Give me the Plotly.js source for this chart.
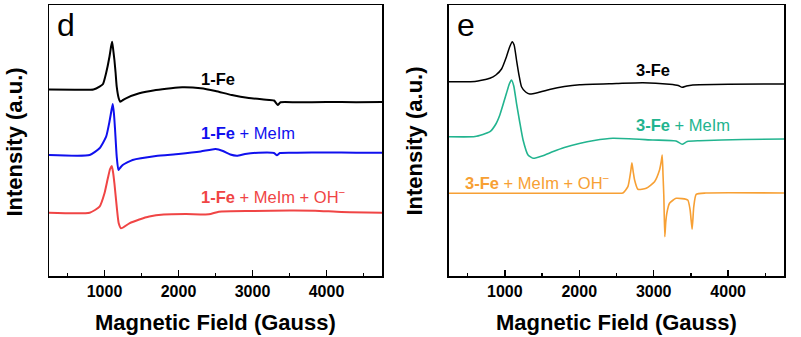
<!DOCTYPE html>
<html><head><meta charset="utf-8">
<script src="https://cdn.plot.ly/plotly-3.0.1.min.js"></script>
<style>html,body{margin:0;padding:0;background:#fff}#chart{width:801px;height:337px}</style>
</head><body><div id="chart"></div>
<script>
// Panel d
const fieldFe1 = [250,600,850,933,980,1022,1067,1090,1103,1118,1134,1150,1165,1192,1211,1240,1290,1470,1695,1900,2050,2300,2500,2720,2950,3150,3290,3340,3380,3600,4000,4400,4750];
const intFe1   = [186.5,186.3,186.5,189.3,192,203,219.3,230,234.3,226,216,203,189.3,177.7,174.3,175.5,177.7,182.7,186,187.8,188.7,187.8,185,181,178,176.5,175.5,171,173.7,173.7,174,173.8,174];
const fieldFe1Im = [250,800,933,1022,1067,1095,1112,1128,1143,1165,1188,1215,1246,1380,1695,2000,2300,2500,2600,2700,2790,2900,3080,3290,3330,3370,3600,4000,4400,4750];
const intFe1Im   = [121,121,127.7,139.3,154.3,166,172,162,146,119.3,106,108.5,111,116,120,122,124.5,127,125,121.5,120.3,122,123.3,123,120.7,123,123.3,123.5,123.3,123.3];
const fieldFe1ImOH = [250,800,933,1000,1045,1075,1098,1115,1134,1165,1192,1224,1336,1470,1605,1800,2100,2410,2545,3000,3500,3845,4200,4750];
const intFe1ImOH   = [63.3,63.3,69.3,82.7,97.7,107,110,104,92.7,69.3,52.7,47.7,52.7,56.5,59.5,61.5,62,61.7,64.3,65,65.5,65.3,64,63.3];
// Panel e
const fieldFe3 = [250,600,800,880,956,1022,1060,1098,1125,1157,1190,1224,1280,1335,1450,1600,1800,2005,2500,2854,3212,3330,3382,3440,3524,4000,4750];
const intFe3   = [194.3,194.5,197.7,201,207,219.3,228,234.3,231,216,201,189.3,184,182,183.5,186.5,189.5,191.3,192.5,193.3,191.7,190.5,188.7,190,191,191.7,192];
const fieldFe3Im = [250,600,800,880,933,1022,1060,1090,1120,1157,1200,1245,1312,1380,1500,1650,1800,2000,2200,2452,2988,3300,3382,3450,3614,4200,4750];
const intFe3Im   = [139.3,139.5,144.3,152,161,182.7,192,196,190,172.7,154,136,121,117.7,120,124.5,128.5,132.5,135.5,137.7,136,135,131.7,134.5,135.3,136.5,137];
const fieldFe3ImOH = [250,2500,2586,2653,2690,2707,2725,2743,2787,2899,3011,3078,3100,3114,3125,3136,3149,3162,3176,3212,3301,3457,3489,3516,3538,3570,3700,4750];
const intFe3ImOH   = [82.7,82.7,83,89.3,104,113.3,104,96,86.7,87.7,94.3,106,114,121,101,79.3,39.3,54,62.7,72.7,77.7,76,66,46.7,69.3,81.7,83,83];

const xTickVals = [1000,2000,3000,4000];
const xTickText = ['1000','2000','3000','4000'];

const FONT = 'Arial, "Liberation Sans", Helvetica, sans-serif';
const cBlack = '#000000', cBlue = '#1010ee', cRed = '#f04545', cTeal = '#22b48f', cOrange = '#f7a034';

function tr(x, y, color, xa, ya, w) {
  return {x: x, y: y, type: 'scatter', mode: 'lines', xaxis: xa, yaxis: ya,
    line: {color: color, width: w, shape: 'spline', smoothing: 0.5}, hoverinfo: 'skip'};
}
const data = [
  tr(fieldFe1, intFe1, cBlack, 'x', 'y', 2),
  tr(fieldFe1Im, intFe1Im, cBlue, 'x', 'y', 2),
  tr(fieldFe1ImOH, intFe1ImOH, cRed, 'x', 'y', 2),
  tr(fieldFe3, intFe3, cBlack, 'x2', 'y2', 1.5),
  tr(fieldFe3Im, intFe3Im, cTeal, 'x2', 'y2', 1.6),
  tr(fieldFe3ImOH, intFe3ImOH, cOrange, 'x2', 'y2', 1.6)
];

function xax(domain, anchor) {
  return {domain: domain, anchor: anchor, range: [250, 4750], tickmode: 'array', tickvals: xTickVals, ticktext: xTickText,
    ticks: 'inside', ticklen: 6, tickwidth: 1.5, tickcolor: '#000',
    minor: {tickmode: 'linear', tick0: 0, dtick: 500, ticks: 'inside', ticklen: 3, tickwidth: 1.5, tickcolor: '#000'},
    showline: true, mirror: true, linecolor: '#000', linewidth: 1.5, showgrid: false, zeroline: false,
    tickfont: {family: FONT, size: 16, color: '#000', weight: 700}, ticklabelstandoff: 0, fixedrange: true};
}
function yax(anchor) {
  return {domain: [0, 1], anchor: anchor, range: [0, 271], showticklabels: false, ticks: '',
    showline: true, mirror: true, linecolor: '#000', linewidth: 1.5, showgrid: false, zeroline: false, fixedrange: true};
}
function lab(text, x, y, color, xr, yr, anchor) {
  return {text: text, x: x, y: y, xref: xr, yref: yr, xanchor: anchor || 'left', yanchor: 'middle', showarrow: false,
    font: {family: FONT, size: 16.5, color: color}};
}
const annotations = [
  lab('<b>1-Fe</b>', 2277, 197.5, cBlack, 'x', 'y'),
  lab('<b>1-Fe</b> + MeIm', 2277, 142.7, cBlue, 'x', 'y'),
  lab('<b>1-Fe</b> + MeIm + OH<sup>−</sup>', 2277, 80, cRed, 'x', 'y'),
  lab('<b>3-Fe</b>', 2729, 206, cBlack, 'x2', 'y2'),
  lab('<b>3-Fe</b> + MeIm', 2729, 151, cTeal, 'x2', 'y2'),
  lab('<b>3-Fe</b> + MeIm + OH<sup>−</sup>', 440, 94.3, cOrange, 'x2', 'y2'),
  {text: 'd', xref: 'paper', yref: 'paper', x: 0.008, y: 0.926, xanchor: 'left', yanchor: 'middle', showarrow: false, font: {family: FONT, size: 32, color: '#000'}},
  {text: 'e', xref: 'paper', yref: 'paper', x: 0.552, y: 0.926, xanchor: 'left', yanchor: 'middle', showarrow: false, font: {family: FONT, size: 32, color: '#000'}},
  {text: '<b>Intensity (a.u.)</b>', xref: 'paper', yref: 'paper', x: -0.0463, y: 0.496, xanchor: 'center', yanchor: 'middle', textangle: -90, showarrow: false, font: {family: FONT, size: 22, color: '#000'}},
  {text: '<b>Intensity (a.u.)</b>', xref: 'paper', yref: 'paper', x: 0.498, y: 0.496, xanchor: 'center', yanchor: 'middle', textangle: -90, showarrow: false, font: {family: FONT, size: 22, color: '#000'}},
  {text: '<b>Magnetic Field (Gauss)</b>', xref: 'paper', yref: 'paper', x: 0.2265, y: -0.173, xanchor: 'center', yanchor: 'middle', showarrow: false, font: {family: FONT, size: 22, color: '#000'}},
  {text: '<b>Magnetic Field (Gauss)</b>', xref: 'paper', yref: 'paper', x: 0.772, y: -0.173, xanchor: 'center', yanchor: 'middle', showarrow: false, font: {family: FONT, size: 22, color: '#000'}}
];

const layout = {
  width: 801, height: 337, margin: {l: 49, r: 17, t: 5, b: 61},
  paper_bgcolor: '#fff', plot_bgcolor: '#fff', showlegend: false,
  xaxis: xax([0, 0.4531], 'y'), yaxis: yax('x'),
  xaxis2: xax([0.5442, 1], 'y2'), yaxis2: yax('x2'),
  annotations: annotations
};
Plotly.newPlot('chart', data, layout, {staticPlot: true, displayModeBar: false});
</script></body></html>
